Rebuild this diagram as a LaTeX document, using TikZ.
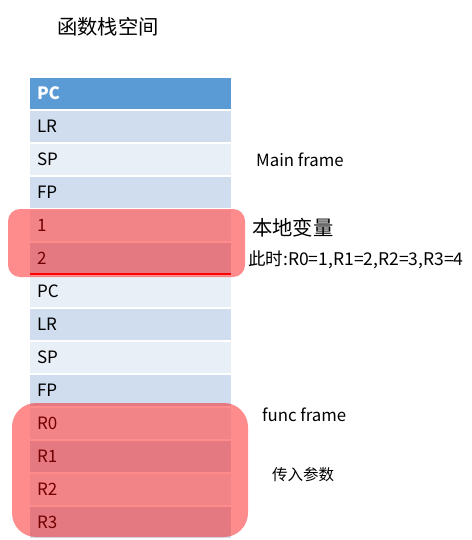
\documentclass[tikz,border=0pt]{standalone}
\usepackage{fontspec}
\setmainfont{Noto Sans CJK SC}
\usetikzlibrary{positioning}
\definecolor{HeadBlue}{HTML}{5B9BD5}
\definecolor{RowDark}{HTML}{CFDDEE}
\definecolor{RowLight}{HTML}{E9EFF7}
\tikzset{
  cell/.style={rectangle, text width=187pt, align=left, inner xsep=7pt, inner ysep=0pt, minimum height=31pt, font=\fontsize{17}{19}\selectfont, text=black},
  headcell/.style={cell, fill=HeadBlue, text=white, font=\fontsize{17}{19}\selectfont\bfseries},
  darkcell/.style={cell, fill=RowDark},
  lightcell/.style={cell, fill=RowLight},
  redmask/.style={fill=red, fill opacity=0.45},
  note/.style={anchor=west, inner sep=0pt, font=\fontsize{16.8}{19}\selectfont},
  bignote/.style={anchor=west, inner sep=0pt, font=\fontsize{20.3}{22}\selectfont}
}

\begin{document}
\begin{tikzpicture}[x=1pt, y=-1pt]
\useasboundingbox (0,0) rectangle (471,540);
\node[bignote] (title) at (57,27) {函数栈空间};
% main frame
\node[headcell] (pc1) at (130.5,93.5) {PC};
\node[darkcell] (lr1) at (130.5,126.5) {LR};
\node[lightcell] (sp1) at (130.5,159.5) {SP};
\node[darkcell] (fp1) at (130.5,192.5) {FP};
\node[lightcell] (v1) at (130.5,225.5) {1};
\node[darkcell] (v2) at (130.5,258.5) {2};
% func frame
\node[lightcell] (pc2) at (130.5,291.5) {PC};
\node[darkcell] (lr2) at (130.5,324.5) {LR};
\node[lightcell] (sp2) at (130.5,357.5) {SP};
\node[darkcell] (fp2) at (130.5,390.5) {FP};
\node[lightcell] (r0) at (130.5,423.5) {R0};
\node[darkcell] (r1) at (130.5,456.5) {R1};
\node[lightcell] (r2) at (130.5,489.5) {R2};
\node[darkcell] (r3) at (130.5,522.5) {R3};
\draw[red, line width=2pt] (v2.south west) -- (v2.south east);
% masks
\fill[redmask, rounded corners=12pt] (8,209) rectangle (245,277);
\fill[redmask, rounded corners=24pt] (12,403) rectangle (248,537);
% notes
\node[note] (mainlbl) at (256,160) {Main frame};
\node[bignote] (locallbl) at (252,228) {本地变量};
\node[note, font=\fontsize{17.5}{19}\selectfont] (nowlbl) at (248,260) {此时:R0=1,R1=2,R2=3,R3=4};
\node[note] (funclbl) at (262,415) {func frame};
\node[note, font=\fontsize{15.5}{17}\selectfont] (arglbl) at (272,475) {传入参数};
\end{tikzpicture}
\end{document}
